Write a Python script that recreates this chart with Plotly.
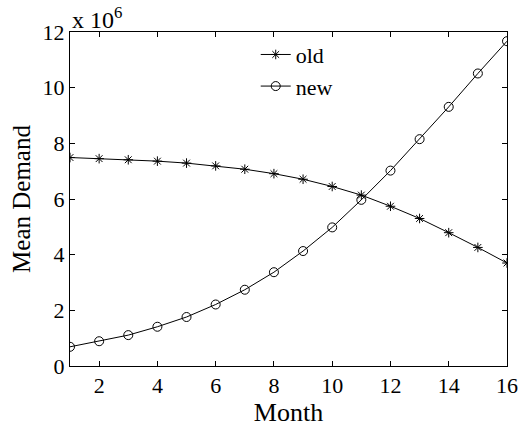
import plotly.graph_objects as go

months = list(range(1, 17))
old_demand = [7.49, 7.45, 7.41, 7.36, 7.29, 7.19, 7.07, 6.91, 6.71, 6.45, 6.14, 5.74, 5.30, 4.79, 4.26, 3.70]
new_demand = [0.69, 0.89, 1.11, 1.41, 1.76, 2.21, 2.74, 3.37, 4.13, 4.98, 5.97, 7.02, 8.15, 9.31, 10.51, 11.67]
x_ticks = [2, 4, 6, 8, 10, 12, 14, 16]
y_ticks = [0, 2, 4, 6, 8, 10, 12]

FONT = "Liberation Serif"

fig = go.Figure()
fig.add_trace(go.Scatter(
    x=months, y=old_demand, name="old", mode="lines+markers",
    line=dict(color="black", width=1),
    marker=dict(symbol="asterisk-open", size=8, color="black", line=dict(color="black", width=1)),
))
fig.add_trace(go.Scatter(
    x=months, y=new_demand, name="new", mode="lines+markers",
    line=dict(color="black", width=1),
    marker=dict(symbol="circle-open", size=9, color="black", line=dict(color="black", width=1)),
))

axis_common = dict(
    showline=True, linecolor="black", linewidth=1, mirror="ticks",
    ticks="inside", ticklen=5, tickcolor="black", tickwidth=1,
    showgrid=False, zeroline=False,
    tickfont=dict(family=FONT, size=22, color="black"),
)

fig.update_layout(
    width=530, height=429,
    margin=dict(l=70, r=13, t=32, b=59),
    paper_bgcolor="white", plot_bgcolor="white",
    font=dict(family=FONT, color="black"),
    xaxis=dict(range=[1, 16], tickvals=x_ticks, ticktext=[str(v) for v in x_ticks],
               title=dict(text="Month", font=dict(family=FONT, size=26, color="black"), standoff=0),
               **axis_common),
    yaxis=dict(range=[0, 12], tickvals=y_ticks, ticktext=[str(v) for v in y_ticks],
               title=dict(text="Mean Demand", font=dict(family=FONT, size=25, color="black"), standoff=4),
               **axis_common),
    legend=dict(x=0.425, y=0.995, xanchor="left", yanchor="top",
                bgcolor="rgba(0,0,0,0)", borderwidth=0,
                font=dict(family=FONT, size=22, color="black"),
                itemwidth=30, tracegroupgap=0),
    showlegend=True,
    annotations=[dict(text="x 10<sup>6</sup>", xref="paper", yref="paper",
                      x=0.0, y=1.0, xanchor="left", yanchor="bottom", showarrow=False,
                      font=dict(family=FONT, size=24, color="black"), yshift=-3)],
)

fig.write_html("out.html")
